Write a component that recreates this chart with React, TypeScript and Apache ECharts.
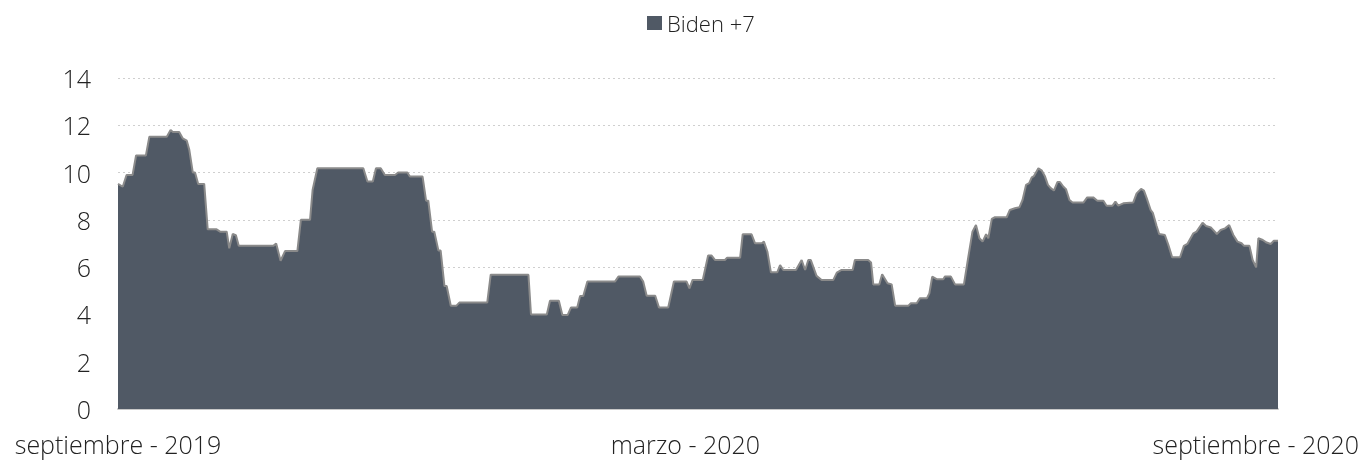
import React, { useEffect, useRef } from "react";
import * as echarts from "echarts";

// x = days since 1 Sep 2019, y = lead (points)
const days: number[] = [
  0, 1.5, 2.7, 4.6, 5.7, 8.8, 9.9, 15.4, 16.6, 17.3, 19.3, 20.4, 21.7, 22.5, 23.6, 24.3, 25.3, 27.2,
  28.3, 31.1, 32.2, 34.3, 35.1, 36.2, 37.2, 38.1, 49.0, 49.9, 51.3, 52.7, 56.6, 57.7, 60.6, 61.4,
  62.9, 77.4, 78.7, 80.4, 81.4, 82.9, 84.2, 87.4, 88.4, 91.3, 92.1, 96.1, 97.2, 97.9, 99.1, 99.8,
  101.1, 101.8, 103.0, 103.7, 105.0, 106.8, 107.7, 116.5, 117.6, 129.5, 130.3, 135.3, 136.3, 139.1,
  140.2, 141.9, 142.9, 144.9, 145.8, 146.8, 148.1, 156.8, 157.9, 164.7, 165.7, 166.8, 169.5, 170.7,
  173.6, 175.4, 179.4, 180.3, 181.3, 184.5, 186.2, 187.3, 188.4, 191.5, 192.2, 196.3, 197.1, 199.9,
  201.0, 203.1, 203.8, 204.9, 206.0, 208.0, 208.9, 209.9, 213.9, 215.7, 216.8, 217.8, 218.6, 220.4,
  222.0, 225.7, 226.8, 228.3, 231.8, 232.5, 236.7, 237.6, 238.3, 240.2, 241.1, 242.8, 244.1, 245.2,
  249.4, 250.1, 252.0, 253.0, 255.2, 256.0, 256.9, 258.3, 260.4, 260.9, 262.8, 264.1, 266.9, 268.3,
  269.6, 270.7, 271.8, 272.8, 273.9, 274.6, 275.7, 276.7, 280.4, 281.4, 283.0, 284.4, 285.4, 286.5,
  287.5, 288.3, 289.0, 290.4, 291.5, 292.5, 293.4, 294.3, 295.3, 296.4, 297.2, 298.3, 299.1, 300.2,
  301.2, 304.6, 305.8, 307.7, 309.0, 310.9, 311.9, 313.8, 314.7, 315.6, 317.2, 320.3, 321.4, 322.8,
  323.7, 324.6, 325.8, 326.5, 327.7, 328.5, 330.3, 331.4, 332.6, 335.1, 336.3, 337.4, 339.3, 340.3,
  342.2, 343.3, 344.8, 346.7, 347.9, 349.3, 350.6, 351.9, 353.2, 354.5, 355.3, 357.0, 358.0, 359.1,
  359.8, 361.2, 362.4, 363.7, 364.7, 366,
];

const lead: number[] = [
  9.52, 9.4, 9.9, 9.9, 10.72, 10.72, 11.52, 11.52, 11.8, 11.72, 11.72, 11.45, 11.35, 10.96, 10.0, 10.0, 9.52, 9.52,
  7.6, 7.6, 7.5, 7.5, 6.8, 7.4, 7.35, 6.9, 6.9, 7.0, 6.27, 6.68, 6.68, 8.0, 8.0, 9.26,
  10.18, 10.18, 9.62, 9.62, 10.18, 10.18, 9.9, 9.9, 10.0, 10.0, 9.83, 9.83, 8.81, 8.81, 7.5, 7.5,
  6.7, 6.7, 5.2, 5.2, 4.37, 4.37, 4.5, 4.5, 5.68, 5.68, 4.0, 4.0, 4.58, 4.58,
  3.98, 3.98, 4.29, 4.29, 4.78, 4.78, 5.39, 5.39, 5.6, 5.6, 5.39, 4.79, 4.79, 4.29,
  4.29, 5.39, 5.39, 5.1, 5.46, 5.46, 6.49, 6.49, 6.3, 6.3, 6.4, 6.4, 7.39, 7.39,
  7.01, 7.01, 7.08, 6.65, 5.78, 5.78, 6.09, 5.88, 5.88, 6.3, 5.88, 6.3, 6.3, 5.63,
  5.46, 5.46, 5.77, 5.88, 5.88, 6.3, 6.3, 6.2, 5.27, 5.27, 5.7, 5.32, 5.27, 4.37,
  4.37, 4.47, 4.47, 4.68, 4.68, 4.89, 5.6, 5.49, 5.49, 5.6, 5.6, 5.27, 5.27, 6.44,
  7.5, 7.78, 7.22, 7.08, 7.39, 7.22, 8.04, 8.11, 8.11, 8.42, 8.49, 8.53, 8.84, 9.48,
  9.55, 9.8, 9.85, 10.18, 10.08, 9.83, 9.48, 9.34, 9.24, 9.6, 9.6, 9.4, 9.3, 8.84,
  8.73, 8.73, 8.95, 8.95, 8.81, 8.81, 8.6, 8.6, 8.77, 8.6, 8.7, 8.73, 9.12, 9.31,
  9.24, 8.91, 8.42, 8.3, 7.74, 7.4, 7.36, 6.94, 6.42, 6.42, 6.9, 6.98, 7.43, 7.5,
  7.88, 7.74, 7.68, 7.4, 7.57, 7.64, 7.78, 7.36, 7.08, 7.01, 6.9, 6.9, 6.3, 5.99,
  7.22, 7.15, 7.04, 6.98, 7.12, 7.12,
];

const seriesName = "Biden +7";
const xLabelDays: number[] = [0, 179, 359];
const xLabelTexts: string[] = ["septiembre - 2019", "marzo - 2020", "septiembre - 2020"];
const yTicks: number[] = [0, 2, 4, 6, 8, 10, 12, 14];

const FONT = "'Open Sans'";

export default function App() {
  const ref = useRef<HTMLDivElement>(null);
  useEffect(() => {
    if (!ref.current) return;
    const chart = echarts.init(ref.current, null, { renderer: "svg" });
    const data = days.map((d, i) => [d, lead[i]]);
    chart.setOption({
      animation: false,
      textStyle: { fontFamily: FONT, fontWeight: 300 },
      legend: {
        data: [seriesName],
        left: 642,
        top: 7,
        icon: "rect",
        itemWidth: 15,
        itemHeight: 14,
        textStyle: { fontFamily: FONT, fontWeight: 300, fontSize: 22, color: "#222" },
      },
      grid: { left: 118, right: 89, top: 78, bottom: 51, containLabel: false },
      xAxis: {
        type: "value",
        min: 0,
        max: 366,
        axisLine: { show: true, lineStyle: { color: "#c8c8c8", width: 2 } },
        axisTick: { show: false },
        splitLine: { show: false },
        axisLabel: {
          customValues: xLabelDays,
          fontFamily: FONT,
          fontWeight: 300,
          fontSize: 25,
          color: "#222",
          margin: 22,
          formatter: (v: number) => {
            const i = xLabelDays.indexOf(v);
            return i >= 0 ? xLabelTexts[i] : "";
          },
        },
      },
      yAxis: {
        type: "value",
        min: yTicks[0],
        max: yTicks[yTicks.length - 1],
        interval: 2,
        axisLine: { show: false },
        axisTick: { show: false },
        splitLine: { show: true, lineStyle: { color: "#cfcfcf", type: [2, 3], width: 1 } },
        axisLabel: { fontFamily: FONT, fontWeight: 300, fontSize: 25, color: "#222", margin: 27 },
      },
      series: [
        {
          name: seriesName,
          type: "line",
          data,
          symbol: "none",
          itemStyle: { color: "#505965" },
          lineStyle: { color: "#8a8a8a", width: 2 },
          areaStyle: { color: "#505965", opacity: 1 },
        },
      ],
    });
    return () => chart.dispose();
  }, []);
  return (
    <div
      ref={ref}
      style={{ position: "fixed", left: 0, top: 0, width: 1367, height: 460 }}
    />
  );
}
